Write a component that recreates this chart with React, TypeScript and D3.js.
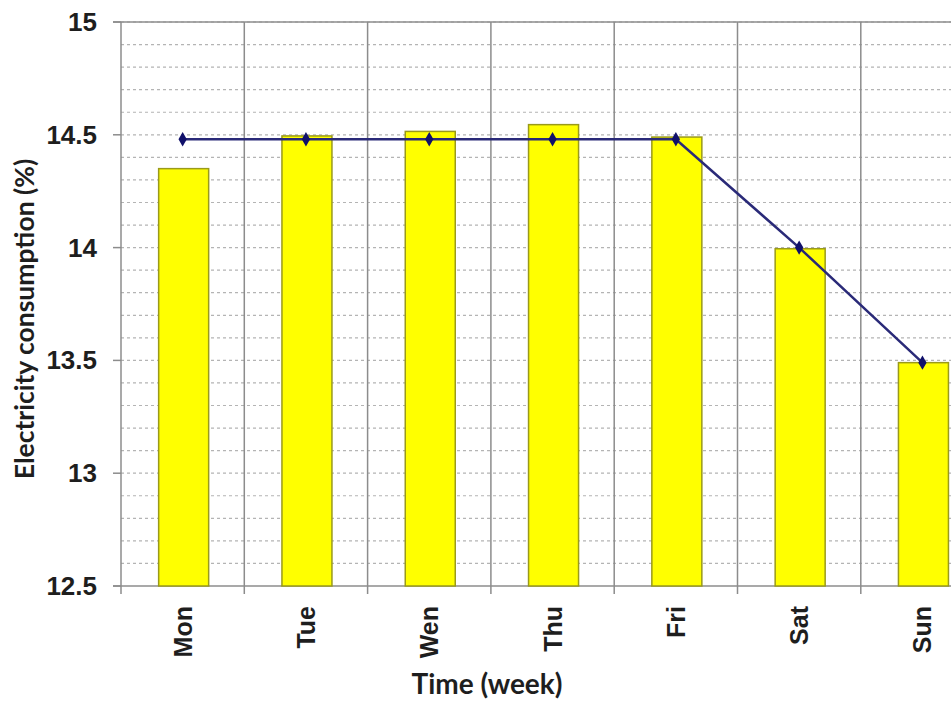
import { useEffect, useRef } from "react";
import * as d3 from "d3";

const days = ["Mon", "Tue", "Wen", "Thu", "Fri", "Sat", "Sun"];
const barValues = [14.35, 14.495, 14.515, 14.545, 14.49, 13.995, 13.49];
const lineValues = [14.48, 14.48, 14.48, 14.48, 14.48, 14.0, 13.49];
const yTicks = [12.5, 13, 13.5, 14, 14.5, 15];

const W = 951;
const H = 707;
// plot continues past the right edge of the picture, like the reference crop
const margin = { left: 121, top: 22, bottom: 121 };
const band = 123.3;

export default function App() {
  const ref = useRef<SVGSVGElement>(null);

  useEffect(() => {
    const svg = d3.select(ref.current!);
    svg.selectAll("*").remove();

    const x0 = margin.left;
    const x1 = margin.left + band * days.length;
    const y0 = H - margin.bottom;

    const x = d3.scaleBand<string>().domain(days).range([x0, x1]).paddingInner(0).paddingOuter(0);
    const y = d3.scaleLinear().domain([12.5, 15]).range([y0, margin.top]);

    const font = "'Liberation Sans', Arial, sans-serif";
    const titleFont = "Lato, 'Open Sans', sans-serif";

    // minor dotted gridlines every 0.1
    const minor = d3.range(12.6, 15.0, 0.1);
    svg
      .append("g")
      .selectAll("line")
      .data(minor)
      .join("line")
      .attr("x1", x0)
      .attr("x2", x1)
      .attr("y1", (d) => y(d))
      .attr("y2", (d) => y(d))
      .attr("stroke", "#b4b4b4")
      .attr("stroke-width", 1.2)
      .attr("stroke-dasharray", "3,3");

    // vertical gridlines at band edges
    const edges = days.map((d) => x(d)!);
    svg
      .append("g")
      .selectAll("line")
      .data(edges)
      .join("line")
      .attr("x1", (d) => d)
      .attr("x2", (d) => d)
      .attr("y1", margin.top)
      .attr("y2", y0 + 8)
      .attr("stroke", "#8c8c8c")
      .attr("stroke-width", 1.5);

    // top and bottom borders
    svg
      .append("line")
      .attr("x1", x0 - 8)
      .attr("x2", x1)
      .attr("y1", y(15))
      .attr("y2", y(15))
      .attr("stroke", "#8c8c8c")
      .attr("stroke-width", 1.5);
    svg
      .append("line")
      .attr("x1", x0 - 8)
      .attr("x2", x1)
      .attr("y1", y0)
      .attr("y2", y0)
      .attr("stroke", "#8c8c8c")
      .attr("stroke-width", 1.5);

    // y ticks
    svg
      .append("g")
      .selectAll("line")
      .data(yTicks)
      .join("line")
      .attr("x1", x0 - 8)
      .attr("x2", x0)
      .attr("y1", (d) => y(d))
      .attr("y2", (d) => y(d))
      .attr("stroke", "#8c8c8c")
      .attr("stroke-width", 1.5);

    svg
      .append("g")
      .selectAll("text")
      .data(yTicks)
      .join("text")
      .attr("x", 97)
      .attr("y", (d) => y(d) + 9)
      .attr("text-anchor", "end")
      .attr("font-family", font)
      .attr("font-weight", "bold")
      .attr("font-size", 26)
      .attr("fill", "#1e1e1e")
      .text((d) => String(d));

    // bars
    const bw = 50;
    svg
      .append("g")
      .selectAll("rect")
      .data(barValues)
      .join("rect")
      .attr("x", (_d, i) => x(days[i])! + x.bandwidth() / 2 - bw / 2 + 1)
      .attr("y", (d) => y(d))
      .attr("width", bw)
      .attr("height", (d) => y0 - y(d))
      .attr("fill", "#ffff00")
      .attr("stroke", "#9a9a1a")
      .attr("stroke-width", 1.5);

    // line
    const line = d3
      .line<number>()
      .x((_d, i) => x(days[i])! + x.bandwidth() / 2)
      .y((d) => y(d));
    svg
      .append("path")
      .datum(lineValues)
      .attr("d", line)
      .attr("fill", "none")
      .attr("stroke", "#2a2a78")
      .attr("stroke-width", 2.5);

    const diamond = d3.symbol().type(d3.symbolDiamond).size(60);
    svg
      .append("g")
      .selectAll("path")
      .data(lineValues)
      .join("path")
      .attr("d", diamond)
      .attr("transform", (d, i) => `translate(${x(days[i])! + x.bandwidth() / 2},${y(d)})`)
      .attr("fill", "#10106a");

    // x labels, rotated
    svg
      .append("g")
      .selectAll("text")
      .data(days)
      .join("text")
      .attr("transform", (d) => `translate(${x(d)! + x.bandwidth() / 2 + 9},${y0 + 20}) rotate(-90)`)
      .attr("text-anchor", "end")
      .attr("font-family", font)
      .attr("font-weight", "bold")
      .attr("font-size", 25)
      .attr("fill", "#1e1e1e")
      .text((d) => d);

    svg
      .append("text")
      .attr("x", 487)
      .attr("y", 694)
      .attr("text-anchor", "middle")
      .attr("font-family", titleFont)
      .attr("font-weight", "bold")
      .attr("font-size", 28)
      .attr("fill", "#1e1e1e")
      .text("Time (week)");

    svg
      .append("text")
      .attr("transform", `translate(34,${319}) rotate(-90)`)
      .attr("text-anchor", "middle")
      .attr("font-family", titleFont)
      .attr("font-weight", "bold")
      .attr("font-size", 26.5)
      .attr("fill", "#1e1e1e")
      .text("Electricity consumption (%)");
  }, []);

  return (
    <svg
      ref={ref}
      width={W}
      height={H}
      style={{ position: "absolute", left: 0, top: 0, background: "#fff", overflow: "hidden" }}
    />
  );
}
